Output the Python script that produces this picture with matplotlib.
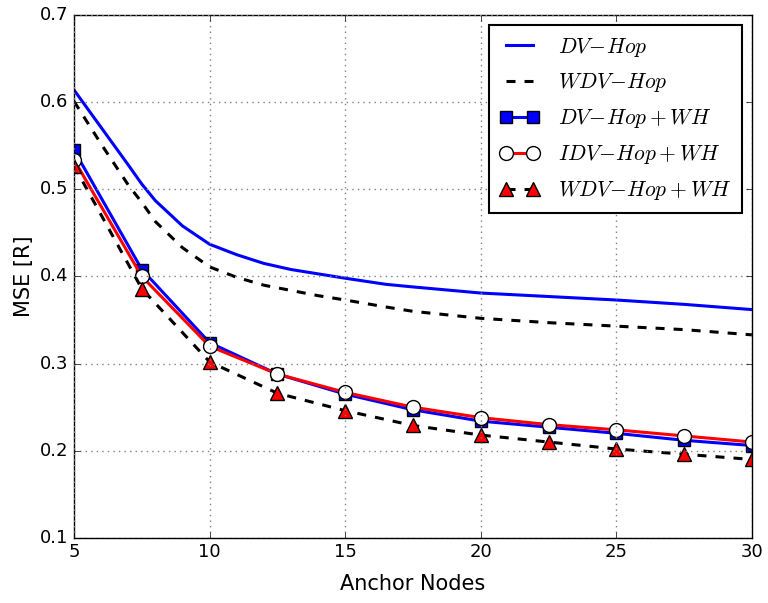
import matplotlib
matplotlib.use('Agg')
import matplotlib.pyplot as plt

plt.style.use('classic')
plt.rcParams['mathtext.fontset'] = 'cm'
plt.rcParams['font.family'] = 'DejaVu Sans'

# smooth reference curves
x_curve = [5, 6, 7, 7.5, 8, 9, 10, 11, 12, 13, 14, 15, 16.5, 17.5, 20, 22.5, 25, 27.5, 30]
dv_hop = [0.614, 0.571, 0.528, 0.506, 0.487, 0.458, 0.437, 0.425, 0.415, 0.408,
          0.403, 0.398, 0.391, 0.388, 0.381, 0.377, 0.373, 0.368, 0.362]
wdv_hop = [0.601, 0.552, 0.505, 0.485, 0.463, 0.433, 0.411, 0.399, 0.390, 0.384,
           0.378, 0.373, 0.365, 0.360, 0.352, 0.347, 0.343, 0.339, 0.333]

# marked curves
anchors = [5, 7.5, 10, 12.5, 15, 17.5, 20, 22.5, 25, 27.5, 30]
dv_hop_wh = [0.545, 0.408, 0.324, 0.288, 0.265, 0.247, 0.234, 0.227, 0.220, 0.212, 0.206]
idv_hop_wh = [0.534, 0.400, 0.320, 0.288, 0.267, 0.250, 0.238, 0.230, 0.224, 0.217, 0.210]
wdv_hop_wh = [0.527, 0.386, 0.302, 0.266, 0.246, 0.229, 0.218, 0.210, 0.202, 0.196, 0.190]

fig = plt.figure(figsize=(7.68, 6.03), dpi=100, facecolor='white')
ax = fig.add_axes([0.0964, 0.108, 0.8826, 0.867])

dash = (6.5, 6.5)
ax.plot(x_curve, dv_hop, color='blue', lw=2.2, label=r'$DV\!-\!Hop$')
ax.plot(x_curve, wdv_hop, color='black', lw=2.2, ls='--', dashes=dash, label=r'$WDV\!-\!Hop$')
ax.plot(anchors, dv_hop_wh, color='blue', lw=2.2, marker='s', ms=9,
        mfc='blue', mec='black', mew=1, label=r'$DV\!-\!Hop+WH$')
ax.plot(anchors, idv_hop_wh, color='red', lw=2.2, marker='o', ms=10,
        mfc='white', mec='black', mew=1, label=r'$IDV\!-\!Hop+WH$')
ax.plot(anchors, wdv_hop_wh, color='black', lw=2.2, ls='--', dashes=dash, marker='^', ms=10,
        mfc='red', mec='black', mew=1, label=r'$WDV\!-\!Hop+WH$')

ax.set_xlim(5, 30)
ax.set_ylim(0.1, 0.7)
ax.set_xticks([5, 10, 15, 20, 25, 30])
ax.set_yticks([0.1, 0.2, 0.3, 0.4, 0.5, 0.6, 0.7])
ax.tick_params(labelsize=13)
ax.grid(True, color='gray', ls=':', lw=1)
ax.set_xlabel('Anchor Nodes', fontsize=15, labelpad=9)
ax.set_ylabel('MSE [R]', fontsize=15, labelpad=4)

leg = ax.legend(loc='upper right', fontsize=15.5, numpoints=2, fancybox=False,
                borderaxespad=0.45, handlelength=1.85, handletextpad=0.85,
                labelspacing=0.6, borderpad=0.5)
leg.get_frame().set_linewidth(1.5)

fig.savefig('out.png', dpi=100, facecolor='white')
